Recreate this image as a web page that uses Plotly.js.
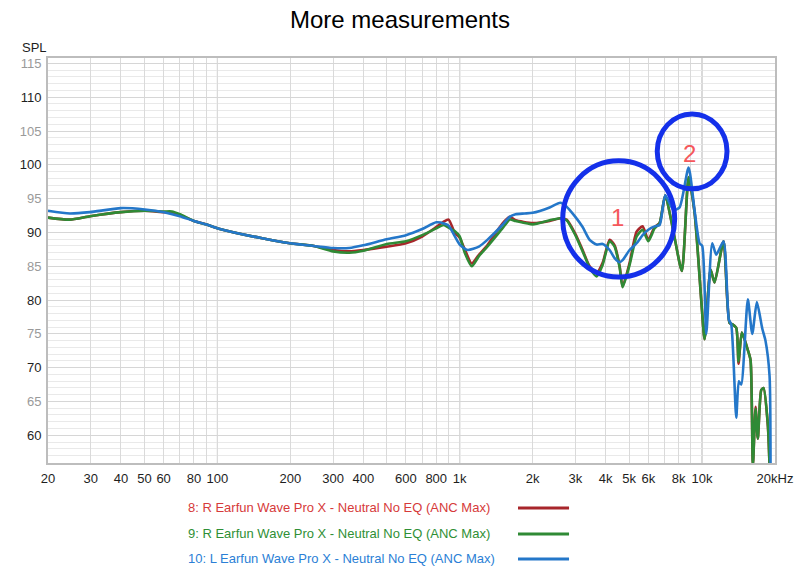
<!DOCTYPE html>
<html>
<head>
<meta charset="utf-8">
<script src="https://cdn.plot.ly/plotly-3.0.1.min.js"></script>
<style>
  html, body { margin: 0; padding: 0; background: #fff; }
  #chart { width: 800px; height: 574px; }
</style>
</head>
<body>
<div id="chart"></div>
<script>
// frequency response readings (Hz, dB SPL)
const freqR = [20, 24.6, 29.8, 40, 50.2, 60.2, 64.9, 70, 80, 89.6, 100.5, 149.7, 199, 250, 300, 350, 400, 500, 600, 700, 800, 859, 900, 953, 1000, 1049, 1121, 1200, 1300, 1500, 1608, 1700, 2000, 2350, 2600, 2761, 3000, 3215, 3436, 3672, 3888, 4155, 4357, 4570, 4700, 5024, 5370, 5686, 6000, 6370, 6683, 7049, 7629, 8256, 8800, 9311, 9924, 10242, 10840, 11259, 12265, 12986, 13358, 13840, 14145, 14596, 15453, 15855, 16206, 16626, 16991, 17550, 17938, 18686, 18990];
const splR = [92.2, 91.9, 92.4, 93.0, 93.2, 93.0, 93.0, 92.6, 91.7, 91.2, 90.6, 89.2, 88.4, 88.0, 87.4, 87.2, 87.4, 87.9, 88.4, 89.4, 90.8, 91.6, 91.9, 90.0, 89.2, 87.5, 85.4, 86.7, 88.1, 91.3, 92.3, 91.8, 91.4, 91.7, 92.1, 91.9, 89.8, 87.4, 85.0, 84.0, 85.5, 88.9, 88.1, 85.0, 82.0, 85.5, 90.1, 90.9, 88.9, 90.8, 91.4, 95.5, 90.0, 84.3, 98.2, 93.0, 80.0, 74.2, 84.5, 82.6, 88.7, 76.6, 76.4, 75.9, 70.6, 75.2, 72.6, 71.1, 55.5, 64.2, 59.5, 66.7, 67.0, 61.4, 55.5];

const freqG = [20, 24.6, 29.8, 40, 50.2, 60.2, 64.9, 70, 80, 89.6, 100.5, 149.7, 199, 250, 300, 350, 400, 500, 600, 700, 800, 859, 900, 953, 1000, 1049, 1121, 1200, 1300, 1500, 1608, 1700, 2000, 2350, 2600, 2761, 3000, 3215, 3436, 3672, 3888, 4155, 4357, 4570, 4700, 5024, 5370, 5686, 6000, 6370, 6683, 7049, 7629, 8256, 8800, 9311, 9924, 10242, 10840, 11259, 12265, 12986, 13358, 13840, 14145, 14596, 15453, 15855, 16206, 16626, 16991, 17550, 17938, 18686, 18990];
const splG = [92.2, 91.9, 92.4, 93.0, 93.2, 93.1, 93.1, 92.7, 91.7, 91.2, 90.6, 89.2, 88.4, 88.0, 87.2, 87.0, 87.3, 88.3, 88.7, 89.6, 90.6, 91.1, 90.7, 90.2, 89.4, 87.0, 85.0, 86.5, 87.9, 90.6, 91.9, 91.7, 91.2, 91.8, 92.1, 91.8, 89.6, 87.2, 84.8, 83.5, 85.2, 88.7, 87.9, 84.8, 81.9, 85.2, 89.4, 90.4, 88.7, 90.6, 91.4, 95.5, 90.0, 84.3, 98.2, 93.0, 80.0, 74.2, 84.5, 82.6, 88.7, 76.6, 76.4, 75.9, 70.9, 75.2, 72.6, 71.1, 55.5, 63.9, 59.5, 66.7, 67.0, 61.6, 55.5];

const freqL = [20, 24.6, 29.8, 40, 50.2, 60.2, 70, 80, 89.6, 100.5, 149.7, 199, 250, 300, 350, 400, 500, 600, 700, 800, 867, 900, 1000, 1078, 1200, 1300, 1500, 1608, 1700, 1854, 2000, 2350, 2600, 2761, 3000, 3215, 3436, 3672, 3888, 4155, 4357, 4570, 4700, 5024, 5370, 5686, 6000, 6370, 6683, 7049, 7629, 8077, 8800, 9311, 9766, 10019, 10408, 11015, 11442, 12265, 12900, 13196, 13840, 14184, 14512, 15453, 16113, 16834, 17716, 18270, 18990, 19170];
const splL = [93.2, 92.8, 93.0, 93.6, 93.4, 93.0, 92.4, 91.7, 91.2, 90.6, 89.2, 88.4, 88.0, 87.7, 87.7, 88.1, 89.0, 89.6, 90.5, 91.5, 91.3, 91.0, 88.2, 87.4, 87.9, 88.9, 91.1, 92.3, 92.7, 92.8, 92.9, 93.7, 94.4, 93.8, 92.3, 90.8, 88.9, 88.2, 88.3, 87.4, 86.2, 85.6, 85.9, 87.4, 88.4, 89.6, 90.4, 90.9, 91.1, 95.5, 93.3, 93.7, 99.6, 93.3, 88.4, 88.0, 75.0, 88.4, 86.7, 88.7, 77.1, 76.4, 62.6, 68.0, 67.5, 80.1, 75.0, 79.7, 75.8, 74.0, 68.8, 55.5];

const names = [
  "8: R Earfun Wave Pro X - Neutral No EQ (ANC Max)",
  "9: R Earfun Wave Pro X - Neutral No EQ (ANC Max)",
  "10: L Earfun Wave Pro X - Neutral No EQ (ANC Max)"
];
const lineColors = ["#a8262b", "#2f8a35", "#2477c9"];
const textColors = ["#d63a3a", "#2f8f35", "#2b7fd6"];

const xTickVals = [20, 30, 40, 50, 60, 70, 80, 90, 100, 200, 300, 400, 500, 600, 700, 800, 900, 1000, 2000, 3000, 4000, 5000, 6000, 7000, 8000, 9000, 10000, 20000];
const xTickText = ["20", "30", "40", "50", "60", "", "80", "", "100", "200", "300", "400", "", "600", "", "800", "", "1k", "2k", "3k", "4k", "5k", "6k", "", "8k", "", "10k", "20kHz"];
const decades = [100, 1000, 10000];
const yTickVals = [60, 65, 70, 75, 80, 85, 90, 95, 100, 105, 110, 115];

const font = "Liberation Sans, Arial, Helvetica, sans-serif";

const traces = [
  [freqR, splR], [freqG, splG], [freqL, splL]
].map(([x, y], i) => ({
  x: x, y: y, name: names[i], type: "scatter", mode: "lines",
  line: { color: lineColors[i], width: 2.6, shape: "spline", smoothing: 0.6 },
  hoverinfo: "skip"
}));

const yTickText = yTickVals.map(v =>
  '<span style="color:' + (v % 10 === 0 ? '#1e1e1e' : '#9a9a9a') + '">' + v + '</span>');

// decade grid lines, a bit darker than the rest
const shapes = decades.map(d => ({
  type: "line", xref: "x", yref: "paper", x0: d, x1: d, y0: 0, y1: 1,
  layer: "below", line: { color: "#acacac", width: 1 }
}));

// the two marked circles
shapes.push({ type: "circle", xref: "paper", yref: "paper",
  x0: 0.708, x1: 0.862, y0: 0.459, y1: 0.746, line: { color: "#1430ea", width: 5 } });
shapes.push({ type: "circle", xref: "paper", yref: "paper",
  x0: 0.838, x1: 0.934, y0: 0.677, y1: 0.862, line: { color: "#1430ea", width: 5 } });

// legend below the plot: text then a line sample
const legY = [-0.111, -0.175, -0.237];
const annotations = [];
names.forEach((n, i) => {
  annotations.push({ xref: "paper", yref: "paper", x: 0.19, y: legY[i],
    xanchor: "left", yanchor: "middle", showarrow: false, text: n,
    font: { family: font, size: 13, color: textColors[i] } });
  shapes.push({ type: "line", xref: "paper", yref: "paper",
    x0: 0.6465, x1: 0.7167, y0: legY[i], y1: legY[i],
    line: { color: lineColors[i], width: 3 } });
});

annotations.push({ xref: "paper", yref: "paper", x: -0.018, y: 1.027,
  xanchor: "center", yanchor: "middle", showarrow: false, text: "SPL",
  font: { family: font, size: 13, color: "#1e1e1e" } });
annotations.push({ xref: "paper", yref: "paper", x: 0.783, y: 0.605,
  xanchor: "center", yanchor: "middle", showarrow: false, text: "1",
  font: { family: font, size: 24, color: "#f5575b" } });
annotations.push({ xref: "paper", yref: "paper", x: 0.883, y: 0.765,
  xanchor: "center", yanchor: "middle", showarrow: false, text: "2",
  font: { family: font, size: 24, color: "#f5575b" } });

const layout = {
  width: 800, height: 574,
  margin: { l: 48, r: 25, t: 58, b: 111 },
  paper_bgcolor: "#ffffff", plot_bgcolor: "#ffffff",
  showlegend: false,
  font: { family: font, size: 13, color: "#1e1e1e" },
  title: { text: "More measurements", xref: "container", x: 0.5, yref: "container",
    y: 0.965, yanchor: "middle", font: { family: font, size: 24, color: "#000" } },
  xaxis: {
    type: "log", range: [Math.log10(20), Math.log10(20000)],
    tickmode: "array", tickvals: xTickVals, ticktext: xTickText,
    ticks: "", ticklabelstandoff: 2,
    showgrid: true, gridcolor: "#dadada", gridwidth: 1,
    showline: true, linecolor: "#bdbdbd", linewidth: 2, mirror: true,
    zeroline: false, tickfont: { size: 13, color: "#1e1e1e" }
  },
  yaxis: {
    range: [55.9, 115.8],
    tickmode: "array", tickvals: yTickVals, ticktext: yTickText,
    ticks: "", ticklabelstandoff: 2,
    showgrid: true, gridcolor: "#d6d6d6", gridwidth: 1,
    minor: { tickmode: "linear", tick0: 0, dtick: 1, showgrid: true, gridcolor: "#e9e9e9", ticklen: 0 },
    showline: true, linecolor: "#bdbdbd", linewidth: 2, mirror: true,
    zeroline: false, tickfont: { size: 13 }
  },
  shapes: shapes,
  annotations: annotations
};

Plotly.newPlot("chart", traces, layout, { staticPlot: true, displayModeBar: false });
</script>
</body>
</html>
